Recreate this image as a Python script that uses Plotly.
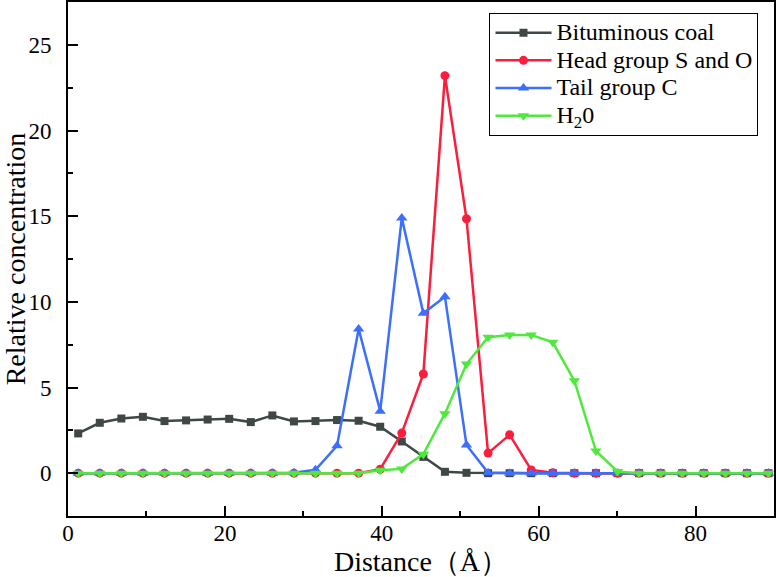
import plotly.graph_objects as go

distance = [1.3, 4.05, 6.8, 9.55, 12.3, 15.05, 17.8, 20.55, 23.3, 26.05, 28.8,
            31.55, 34.3, 37.05, 39.8, 42.55, 45.3, 48.05, 50.8, 53.55, 56.3,
            59.05, 61.8, 64.55, 67.3, 70.05, 72.8, 75.55, 78.3, 81.05, 83.8,
            86.55, 89.3]

bituminous_coal = [2.32, 2.94, 3.19, 3.29, 3.04, 3.08, 3.13, 3.17, 2.98, 3.37, 3.02,
                   3.04, 3.10, 3.06, 2.71, 1.85, 0.95, 0.08, 0.02, 0, 0,
                   0, 0, 0, 0, 0, 0, 0, 0, 0, 0, 0, 0]

head_group = [0, 0, 0, 0, 0, 0, 0, 0, 0, 0, 0,
              0, 0, 0, 0.23, 2.34, 5.79, 23.2, 14.85, 1.17, 2.24,
              0.19, 0.03, 0, 0, 0, 0, 0, 0, 0, 0, 0, 0]

tail_group = [0, 0, 0, 0, 0, 0, 0, 0, 0, 0, 0.02,
              0.2, 1.6, 8.42, 3.62, 14.9, 9.33, 10.3, 1.64, 0.02, 0,
              0, 0, 0, 0, 0, 0, 0, 0, 0, 0, 0, 0]

water = [0, 0, 0, 0, 0, 0, 0, 0, 0, 0, 0,
         0, 0, 0, 0.17, 0.25, 1.11, 3.47, 6.37, 7.93, 8.07,
         8.07, 7.64, 5.4, 1.3, 0.1, 0, 0, 0, 0, 0, 0, 0]

series = [
    ("Bituminous coal", bituminous_coal, "#3f4747", "square", 8),
    ("Head group S and O", head_group, "#fa1e3c", "circle", 9),
    ("Tail group C", tail_group, "#3c6eff", "triangle-up", 10),
    ("H<sub>2</sub>0", water, "#4fe83c", "triangle-down", 10),
]

fig = go.Figure()
for name, vals, color, sym, size in series:
    fig.add_trace(go.Scatter(
        x=distance, y=vals, mode="lines+markers",
        name="<span style='font-size:24px'>" + name + "</span>",
        line=dict(color=color, width=2.5),
        marker=dict(symbol=sym, size=size, color=color),
    ))

font = "Liberation Serif, Times New Roman, serif"
axis_common = dict(
    showline=True, linecolor="black", linewidth=2, mirror=True,
    ticks="inside", ticklen=10, tickwidth=2, tickcolor="black",
    showgrid=False, zeroline=False, automargin=False,
    tickfont=dict(family=font, size=23, color="black"),
)

fig.update_xaxes(
    range=[0, 90], dtick=20, tick0=0,
    minor=dict(dtick=10, ticks="inside", ticklen=5, tickwidth=2, tickcolor="black"),
    title=dict(text="Distance（Å）", font=dict(family=font, size=28, color="black"), standoff=7),
    ticklabelstandoff=-5,
    **axis_common,
)
fig.update_yaxes(
    range=[-2.5, 27.5], dtick=5, tick0=0,
    minor=dict(dtick=2.5, ticks="inside", ticklen=5, tickwidth=2, tickcolor="black"),
    title=dict(text="Relative concentration", font=dict(family=font, size=28, color="black"), standoff=3),
    ticklabelstandoff=10,
    **axis_common,
)

fig.update_layout(
    width=776, height=577,
    margin=dict(l=68, r=2, t=2, b=61),
    paper_bgcolor="white", plot_bgcolor="white",
    legend=dict(
        x=0.597, y=0.979, xanchor="left", yanchor="top",
        bgcolor="white", bordercolor="black", borderwidth=1,
        font=dict(family=font, size=19, color="black"),
        itemwidth=56, tracegroupgap=0,
    ),
    font=dict(family=font, color="black"),
)

fig.write_html("out.html", config={"displayModeBar": False},
               post_script="document.body.style.margin='0';")
